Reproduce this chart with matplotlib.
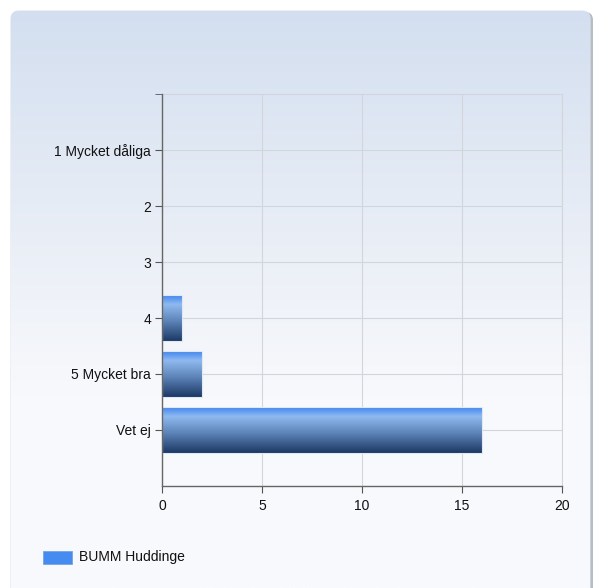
import numpy as np
import matplotlib
matplotlib.use("Agg")
import matplotlib.pyplot as plt
from matplotlib.colors import LinearSegmentedColormap
from matplotlib.patches import FancyBboxPatch, Rectangle

plt.rcParams["font.family"] = ["Liberation Sans", "DejaVu Sans"]

categories = ["1 Mycket dåliga", "2", "3", "4", "5 Mycket bra", "Vet ej"]
values = [0, 0, 0, 1, 2, 16]
series_name = "BUMM Huddinge"

fig = plt.figure(figsize=(5.95, 5.88), dpi=100)

# panel background with vertical gradient
bg = fig.add_axes([0, 0, 1, 1], zorder=0)
bg.set_xlim(0, 595)
bg.set_ylim(588, 0)
bg.axis("off")
shadow = FancyBboxPatch((13, 12), 580, 600, boxstyle="round,pad=0,rounding_size=8",
                        facecolor="#b8bcc4", edgecolor="none")
bg.add_patch(shadow)
panel = FancyBboxPatch((11, 11), 579, 600, boxstyle="round,pad=0,rounding_size=8",
                       facecolor="none", edgecolor="#dde3ec", linewidth=0.8)
bg.add_patch(panel)
bg_cmap = LinearSegmentedColormap.from_list("bg", ["#d3dff0", "#e6ecf5", "#f8f9fc", "#f9fafd"])
grad = np.linspace(0, 1, 256).reshape(-1, 1)
im = bg.imshow(grad, cmap=bg_cmap, extent=[11, 590, 588, 11], aspect="auto", zorder=1)
im.set_clip_path(panel)

# legend
bg.add_patch(Rectangle((43, 551), 29, 13, facecolor="#448cf0", edgecolor="#6f9fe0",
                       linewidth=0.5, zorder=3))
bg.text(79, 557, series_name, fontsize=10, va="center", ha="left", color="#111111", zorder=3)

ax = fig.add_axes([162 / 595, 1 - 486 / 588, 400 / 595, 392 / 588], zorder=2)
ax.patch.set_alpha(0)

ypos = np.arange(len(categories))
bar_h = 0.82
bar_cmap = LinearSegmentedColormap.from_list(
    "bar", [(0, "#3e84ee"), (0.2, "#8fbaf0"), (0.55, "#5f86bb"), (1, "#1c3864")])
for y, w in zip(ypos, values):
    if w <= 0:
        continue
    ax.barh(y, w, height=bar_h, color="none", edgecolor="#dfe8f5", linewidth=0.8, zorder=3)
    y0 = y - bar_h / 2
    ax.imshow(grad, cmap=bar_cmap, extent=[0, w, y0 + bar_h, y0], aspect="auto", zorder=2)

ax.set_xlim(0, 20)
ax.set_ylim(6, -1)
ax.set_xticks([0, 5, 10, 15, 20])
ax.set_yticks(ypos)
ax.set_yticklabels(categories)
ax.set_yticks([-1], minor=True)
ax.tick_params(axis="y", which="minor", length=5, color="#555555")
ax.tick_params(axis="both", length=5, color="#555555", labelsize=10, labelcolor="#111111")
ax.tick_params(axis="y", pad=3)
ax.tick_params(axis="x", pad=4)

ax.grid(True, color="#d2d6dc", linewidth=0.8, zorder=0)
for s in ["top", "right"]:
    ax.spines[s].set_color("#d2d6dc")
    ax.spines[s].set_linewidth(0.8)
for s in ["left", "bottom"]:
    ax.spines[s].set_color("#666666")
    ax.spines[s].set_linewidth(1.0)
    ax.spines[s].set_zorder(4)

fig.savefig("out.png", dpi=100, facecolor="white")
